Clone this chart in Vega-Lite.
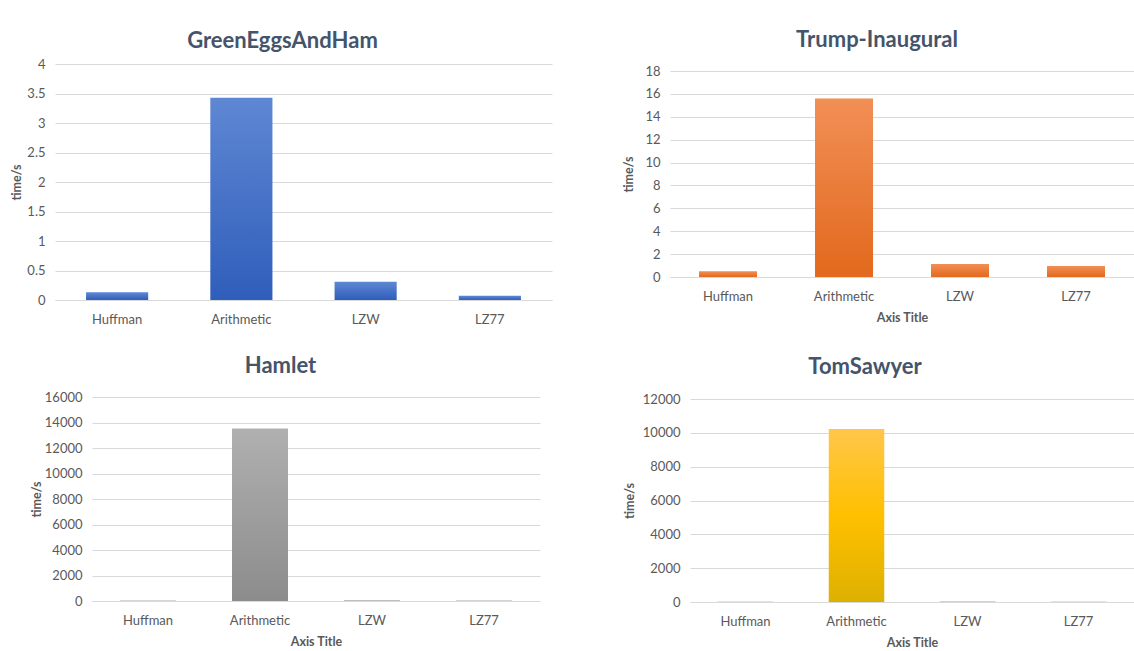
{
  "$schema": "https://vega.github.io/schema/vega-lite/v6.json",
  "background": "white",
  "padding": {"left": 10, "top": 29, "right": 0, "bottom": 0},
  "datasets": {
    "green": [
      {"method": "Huffman", "time": 0.13},
      {"method": "Arithmetic", "time": 3.43},
      {"method": "LZW", "time": 0.31},
      {"method": "LZ77", "time": 0.07}
    ],
    "trump": [
      {"method": "Huffman", "time": 0.5},
      {"method": "Arithmetic", "time": 15.6},
      {"method": "LZW", "time": 1.14},
      {"method": "LZ77", "time": 0.96}
    ],
    "hamlet": [
      {"method": "Huffman", "time": 40},
      {"method": "Arithmetic", "time": 13520},
      {"method": "LZW", "time": 50},
      {"method": "LZ77", "time": 45}
    ],
    "tom": [
      {"method": "Huffman", "time": 35},
      {"method": "Arithmetic", "time": 10230},
      {"method": "LZW", "time": 40},
      {"method": "LZ77", "time": 35}
    ]
  },
  "columns": 2,
  "bounds": "flush",
  "spacing": {"column": 118, "row": 97},
  "concat": [
    {
      "width": 497,
      "height": 236,
      "title": {"text": "GreenEggsAndHam", "dx": -21, "dy": 12, "offset": 0, "baseline": "alphabetic"},
      "data": {"name": "green"},
      "mark": {"type": "bar", "color": {"gradient": "linear", "x1": 0, "y1": 0, "x2": 0, "y2": 1, "stops": [{"offset": 0, "color": "#5f87d3"}, {"offset": 1, "color": "#2f5ebb"}]}},
      "encoding": {
        "x": {"field": "method", "type": "nominal", "sort": null, "axis": {"title": null}, "scale": {"paddingInner": 0.5, "paddingOuter": 0.25}},
        "y": {"field": "time", "type": "quantitative", "title": "time/s", "scale": {"domain": [0, 4]}, "axis": {"values": [0, 0.5, 1, 1.5, 2, 2.5, 3, 3.5, 4], "format": "~g", "titlePadding": 3}}
      }
    },
    {
      "width": 464,
      "height": 213,
      "title": {"text": "Trump-Inaugural", "dx": -25, "dy": 5, "offset": 0, "baseline": "alphabetic"},
      "data": {"name": "trump"},
      "mark": {"type": "bar", "color": {"gradient": "linear", "x1": 0, "y1": 0, "x2": 0, "y2": 1, "stops": [{"offset": 0, "color": "#f28f56"}, {"offset": 1, "color": "#e2691d"}]}},
      "encoding": {
        "x": {"field": "method", "type": "nominal", "sort": null, "axis": {"title": "Axis Title"}, "scale": {"paddingInner": 0.5, "paddingOuter": 0.25}},
        "y": {"field": "time", "type": "quantitative", "title": "time/s", "scale": {"domain": [0, 18], "range": [213, 7]}, "axis": {"values": [0, 2, 4, 6, 8, 10, 12, 14, 16, 18], "format": "d", "titlePadding": 9}}
      }
    },
    {
      "width": 485,
      "height": 204,
      "title": {"text": "Hamlet", "dx": -17, "dy": 4, "offset": 0, "baseline": "alphabetic"},
      "data": {"name": "hamlet"},
      "mark": {"type": "bar", "color": {"gradient": "linear", "x1": 0, "y1": 0, "x2": 0, "y2": 1, "stops": [{"offset": 0, "color": "#b0b0b0"}, {"offset": 1, "color": "#8c8c8c"}]}},
      "encoding": {
        "x": {"field": "method", "type": "nominal", "sort": null, "axis": {"title": "Axis Title"}, "scale": {"paddingInner": 0.5, "paddingOuter": 0.25, "range": [37, 485]}},
        "y": {"field": "time", "type": "quantitative", "title": "time/s", "scale": {"domain": [0, 16000]}, "axis": {"values": [0, 2000, 4000, 6000, 8000, 10000, 12000, 14000, 16000], "format": "d", "offset": -37, "titlePadding": 1}}
      }
    },
    {
      "width": 464,
      "height": 205,
      "title": {"text": "TomSawyer", "dx": -37, "dy": 3, "offset": 0, "baseline": "alphabetic"},
      "data": {"name": "tom"},
      "mark": {"type": "bar", "color": {"gradient": "linear", "x1": 0, "y1": 0, "x2": 0, "y2": 1, "stops": [{"offset": 0, "color": "#ffc64a"}, {"offset": 0.5, "color": "#ffc000"}, {"offset": 1, "color": "#ddb000"}]}},
      "encoding": {
        "x": {"field": "method", "type": "nominal", "sort": null, "axis": {"title": "Axis Title"}, "scale": {"paddingInner": 0.5, "paddingOuter": 0.25, "range": [20, 464]}},
        "y": {"field": "time", "type": "quantitative", "title": "time/s", "scale": {"domain": [0, 12000], "range": [205, 2]}, "axis": {"values": [0, 2000, 4000, 6000, 8000, 10000, 12000], "format": "d", "offset": -20, "titlePadding": 6}}
      }
    }
  ],
  "config": {
    "font": "Lato",
    "view": {"stroke": null},
    "title": {"fontSize": 22, "fontWeight": "bold", "color": "#44546a", "font": "Lato", "anchor": "middle"},
    "axis": {
      "labelFont": "Lato",
      "titleFont": "Lato",
      "labelColor": "#595959",
      "titleColor": "#595959",
      "labelFontSize": 13,
      "titleFontSize": 12.5,
      "titleFontWeight": "bold",
      "ticks": false,
      "gridColor": "#d9d9d9",
      "domainColor": "#d9d9d9"
    },
    "axisX": {"labelAngle": 0, "labelPadding": 13, "titlePadding": 8, "grid": false},
    "axisY": {"domain": false, "labelPadding": 10, "grid": true}
  }
}
